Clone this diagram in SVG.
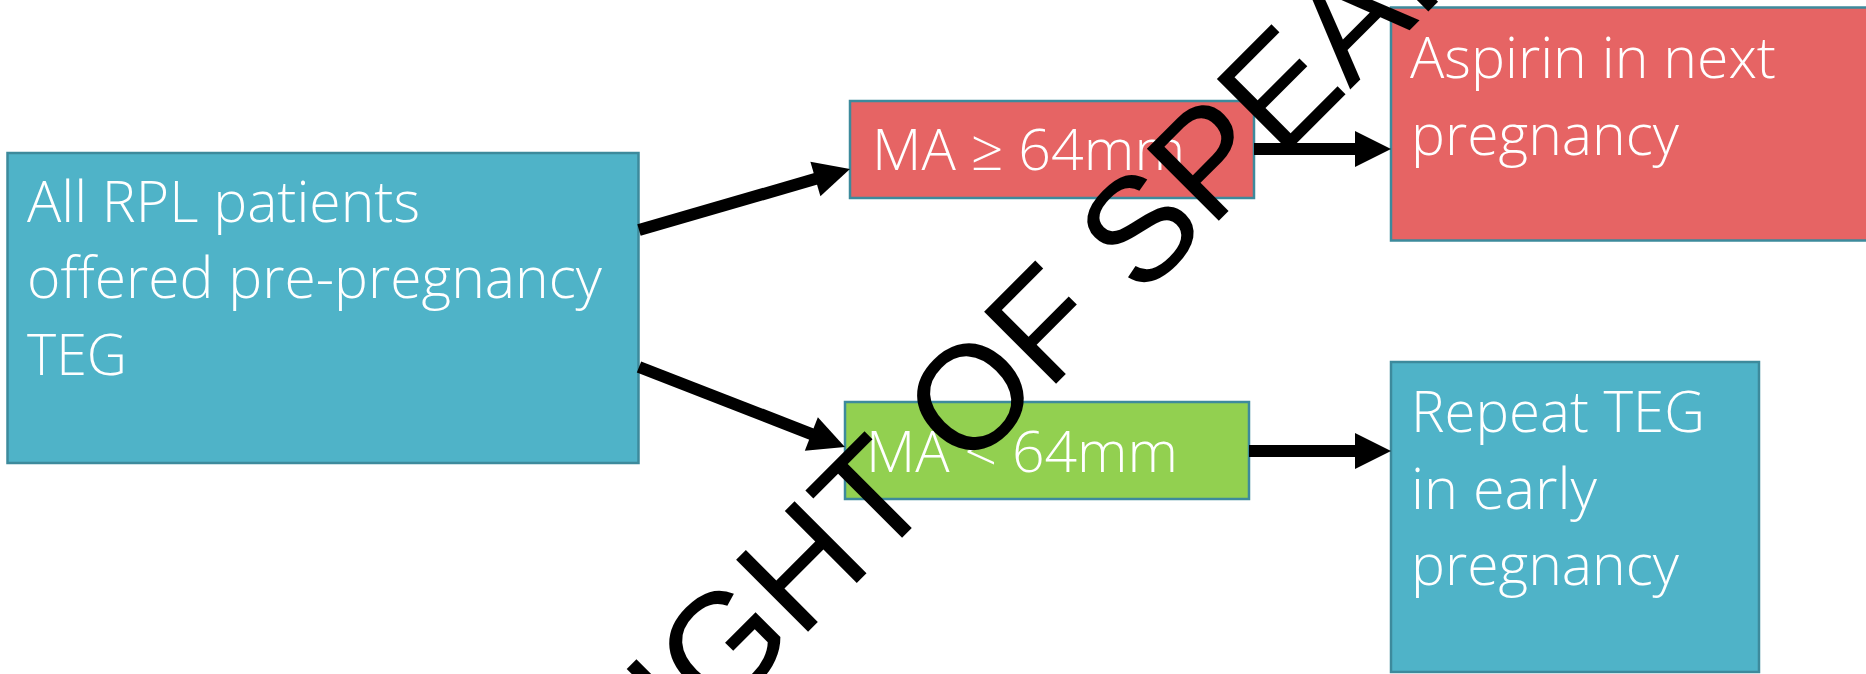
<svg xmlns="http://www.w3.org/2000/svg" width="1866" height="674" viewBox="0 0 1866 674">
<style>
.box{stroke:#3d8a9c;stroke-width:2.5}
.teal{fill:#4fb3c8}
.red{fill:#e66464}
.green{fill:#92d050}
.lbl{font-family:"Open Sans","Liberation Sans",sans-serif;font-weight:300;font-size:57px;fill:#ffffff}
.conn{stroke:#000000;stroke-width:12;fill:none}
.wm{font-family:"Liberation Sans",Arial,sans-serif;font-size:148px;fill:#000000}
</style>
<defs>
<marker id="ah" markerUnits="userSpaceOnUse" markerWidth="38" markerHeight="38" refX="5" refY="18" orient="auto" overflow="visible">
<path d="M0,0 L36,18 L0,36 Z" fill="#000000"/>
</marker>
</defs>
<rect width="1866" height="674" fill="#ffffff"/>
<g id="n1">
<rect class="box teal" x="7.5" y="153" width="631" height="310"/>
<text class="lbl" x="27" y="222" textLength="393" lengthAdjust="spacingAndGlyphs">All RPL patients</text>
<text class="lbl" x="27" y="298" textLength="575" lengthAdjust="spacingAndGlyphs">offered pre-pregnancy</text>
<text class="lbl" x="27" y="375" textLength="100" lengthAdjust="spacingAndGlyphs">TEG</text>
</g>
<g id="n2">
<rect class="box red" x="850" y="101" width="404" height="97"/>
<text class="lbl" x="872" y="170" textLength="313" lengthAdjust="spacingAndGlyphs">MA ≥ 64mm</text>
</g>
<g id="n3">
<rect class="box green" x="845" y="402" width="404" height="97"/>
<text class="lbl" x="866" y="472" textLength="312" lengthAdjust="spacingAndGlyphs">MA &lt; 64mm</text>
</g>
<g id="n4">
<rect class="box red" x="1391" y="7.5" width="490" height="233"/>
<text class="lbl" x="1410" y="78" textLength="366" lengthAdjust="spacingAndGlyphs">Aspirin in next</text>
<text class="lbl" x="1411" y="155" textLength="268" lengthAdjust="spacingAndGlyphs">pregnancy</text>
</g>
<g id="n5">
<rect class="box teal" x="1391" y="362" width="368" height="310"/>
<text class="lbl" x="1411" y="432" textLength="294" lengthAdjust="spacingAndGlyphs">Repeat TEG</text>
<text class="lbl" x="1411" y="509" textLength="186" lengthAdjust="spacingAndGlyphs">in early</text>
<text class="lbl" x="1411" y="585" textLength="268" lengthAdjust="spacingAndGlyphs">pregnancy</text>
</g>
<g id="connectors">
<line class="conn" x1="639" y1="230" x2="820.2" y2="177.6" marker-end="url(#ah)"/>
<line class="conn" x1="639" y1="367" x2="816" y2="435.8" marker-end="url(#ah)"/>
<line class="conn" x1="1254" y1="149" x2="1360" y2="149" marker-end="url(#ah)"/>
<line class="conn" x1="1249" y1="451" x2="1360" y2="451" marker-end="url(#ah)"/>
</g>
<g id="watermark">
<text class="wm" transform="translate(316.8,1122.9) rotate(-45)">COPYRIGHT OF SPEAKER</text>
</g>
</svg>
